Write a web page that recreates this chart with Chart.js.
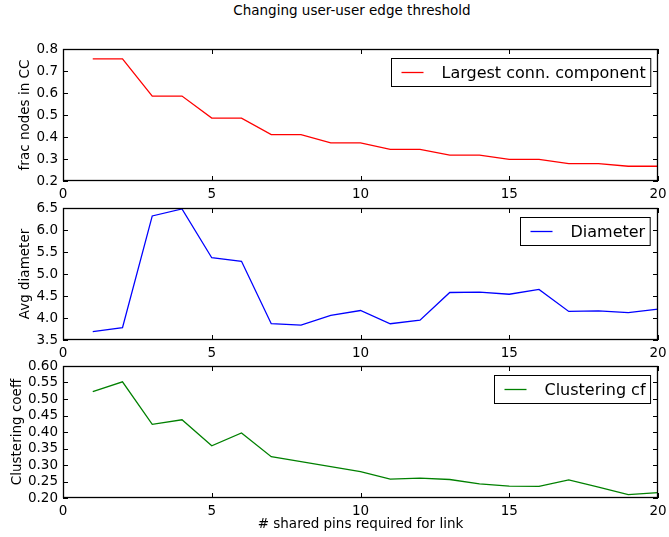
<!DOCTYPE html>
<html>
<head>
<meta charset="utf-8">
<script src="https://cdn.jsdelivr.net/npm/chart.js@4.4.1/dist/chart.umd.min.js"></script>
<style>
  body { margin: 0; background: #fff; width: 669px; height: 537px; position: relative; overflow: hidden; font-family: "DejaVu Sans"; }
  #title { position: absolute; top: 2px; left: 0; width: 704px; text-align: center; font-size: 13.5px; color: #000; }
  canvas { position: absolute; left: 0; }
</style>
</head>
<body>
<div id="title">Changing user-user edge threshold</div>
<canvas id="cc" width="669" height="175" style="top:30px"></canvas>
<canvas id="diam" width="669" height="175" style="top:190px"></canvas>
<canvas id="clust" width="669" height="187" style="top:350px"></canvas>
<script>
// x values: # shared pins required for link
const pins = [1, 2, 3, 4, 5, 6, 7, 8, 9, 10, 11, 12, 13, 14, 15, 16, 17, 18, 19, 20];

// fraction of nodes in the largest connected component
const ccFrac = [0.755, 0.755, 0.586, 0.586, 0.486, 0.486, 0.411, 0.411, 0.373, 0.373,
                0.344, 0.344, 0.318, 0.318, 0.298, 0.298, 0.279, 0.279, 0.267, 0.267];

// average diameter
const diameter = [3.69, 3.78, 6.32, 6.48, 5.37, 5.29, 3.87, 3.84, 4.06, 4.17,
                  3.87, 3.95, 4.58, 4.59, 4.54, 4.65, 4.15, 4.16, 4.12, 4.20];

// clustering coefficient
const clustering = [0.522, 0.552, 0.423, 0.437, 0.358, 0.397, 0.325, 0.310, 0.295, 0.280,
                    0.257, 0.260, 0.256, 0.243, 0.236, 0.235, 0.255, 0.233, 0.210, 0.216];

const FONT = "DejaVu Sans";

// matplotlib-ish frame, inward ticks on all sides and a boxed legend
const framePlugin = {
  id: 'frame',
  afterDraw(chart) {
    const { ctx, chartArea: a, scales } = chart;
    const tl = 5;
    ctx.save();
    ctx.strokeStyle = '#000';
    ctx.lineWidth = 1;
    ctx.beginPath();
    scales.x.ticks.forEach(t => {
      const px = Math.round(scales.x.getPixelForValue(t.value)) + 0.5;
      ctx.moveTo(px, a.bottom); ctx.lineTo(px, a.bottom - tl);
      ctx.moveTo(px, a.top); ctx.lineTo(px, a.top + tl);
    });
    scales.y.ticks.forEach(t => {
      const py = Math.round(scales.y.getPixelForValue(t.value)) + 0.5;
      ctx.moveTo(a.left, py); ctx.lineTo(a.left + tl, py);
      ctx.moveTo(a.right, py); ctx.lineTo(a.right - tl, py);
    });
    ctx.stroke();
    ctx.lineWidth = 1.3;
    ctx.strokeRect(Math.round(a.left) + 0.5, Math.round(a.top) + 0.5,
                   Math.round(a.width) - 1, Math.round(a.height) - 1);

    // legend
    const ds = chart.data.datasets[0];
    ctx.font = '16px "' + FONT + '"';
    const tw = ctx.measureText(ds.label).width;
    const w = 50 + tw + 5, h = 28;
    const x0 = Math.round(a.right - 8 - w) + 0.5, y0 = Math.round(a.top + 9) + 0.5;
    ctx.fillStyle = '#fff';
    ctx.fillRect(x0, y0, w, h);
    ctx.strokeStyle = '#000';
    ctx.lineWidth = 1;
    ctx.strokeRect(x0, y0, w, h);
    ctx.strokeStyle = ds.borderColor;
    ctx.lineWidth = 1.3;
    ctx.beginPath();
    ctx.moveTo(x0 + 10, y0 + h / 2);
    ctx.lineTo(x0 + 32, y0 + h / 2);
    ctx.stroke();
    ctx.fillStyle = '#000';
    ctx.textBaseline = 'middle';
    ctx.fillText(ds.label, x0 + 50, y0 + h / 2 + 1);
    ctx.restore();
  }
};

function makeChart(id, label, values, color, yMin, yMax, yStep, yDec, yTitle, opts) {
  return new Chart(document.getElementById(id), {
    type: 'line',
    data: {
      datasets: [{
        label: label,
        data: pins.map((p, i) => ({ x: p, y: values[i] })),
        borderColor: color,
        borderWidth: 1.3,
        pointRadius: 0,
        tension: 0,
        fill: false
      }]
    },
    options: {
      responsive: false,
      animation: false,
      layout: { padding: { top: opts.padTop, right: 11, left: 0, bottom: 0 } },
      plugins: { legend: { display: false }, tooltip: { enabled: false } },
      scales: {
        x: {
          type: 'linear',
          min: 0, max: 20,
          grid: { display: false, drawTicks: false },
          border: { display: false },
          ticks: { stepSize: 5, color: '#000', padding: 5, maxRotation: 0, autoSkip: false, font: { family: FONT, size: 13.5 } },
          title: {
            display: !!opts.xTitle,
            text: opts.xTitle || '',
            color: '#000',
            padding: { top: 0, bottom: 4 },
            font: { family: FONT, size: 13.5 }
          },
          afterFit(s) {
            s.height = opts.xHeight;
            s.paddingLeft = 0;
            s.paddingRight = 0;
          }
        },
        y: {
          min: yMin, max: yMax,
          grid: { display: false, drawTicks: false },
          border: { display: false },
          ticks: {
            stepSize: yStep, color: '#000', padding: 5, autoSkip: false,
            font: { family: FONT, size: 13.5 },
            callback: v => Number(v).toFixed(yDec)
          },
          title: {
            display: true,
            text: yTitle,
            color: '#000',
            padding: { top: opts.yTitlePad, bottom: 0 },
            font: { family: FONT, size: 13.5 }
          },
          afterFit(s) {
            s.width = 63;
            s.paddingTop = 0;
            s.paddingBottom = 0;
          }
        }
      }
    },
    plugins: [framePlugin]
  });
}

makeChart('cc', 'Largest conn. component', ccFrac, '#ff0000', 0.2, 0.8, 0.1, 1,
  'frac nodes in CC', { padTop: 19, xHeight: 24, yTitlePad: 17 });
makeChart('diam', 'Diameter', diameter, '#0000ff', 3.5, 6.5, 0.5, 1,
  'Avg diameter', { padTop: 18, xHeight: 25, yTitlePad: 17 });
makeChart('clust', 'Clustering cf', clustering, '#008000', 0.2, 0.6, 0.05, 2,
  'Clustering coeff', { padTop: 16, xHeight: 39, yTitlePad: 9, xTitle: '# shared pins required for link' });
</script>
</body>
</html>
